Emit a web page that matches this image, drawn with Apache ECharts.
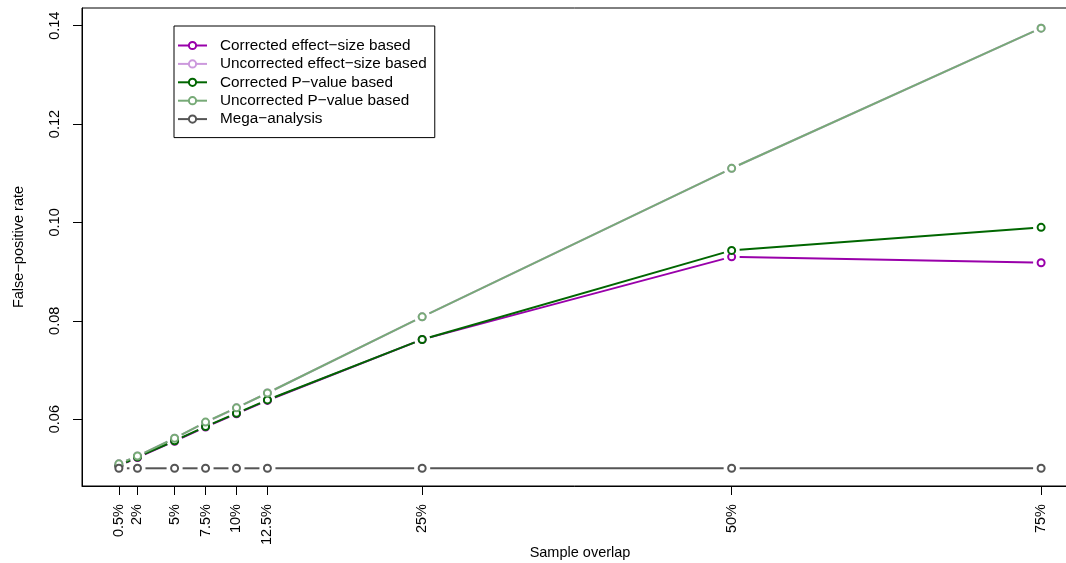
<!DOCTYPE html>
<html>
<head>
<meta charset="utf-8">
<script src="https://cdn.jsdelivr.net/npm/echarts@6/dist/echarts.min.js"></script>
<style>html,body{margin:0;padding:0;background:#fff;}#c{width:1066px;height:563px;}</style>
</head>
<body>
<div id="c"></div>
<script>
// ---- data ----
const overlap = [0.5, 2, 5, 7.5, 10, 12.5, 25, 50, 75];
const xTickLabels = ['0.5%', '2%', '5%', '7.5%', '10%', '12.5%', '25%', '50%', '75%'];
const yTicks = [0.06, 0.08, 0.10, 0.12, 0.14];
const correctedEffect   = [0.0505, 0.0522, 0.0555, 0.0584, 0.0611, 0.0638, 0.0762, 0.0930, 0.0918];
const uncorrectedEffect = [0.0509, 0.0525, 0.0561, 0.0593, 0.0623, 0.0653, 0.0808, 0.1110, 0.1395];
const correctedP        = [0.0505, 0.0523, 0.0556, 0.0585, 0.0612, 0.0639, 0.0762, 0.0943, 0.0990];
const uncorrectedP      = [0.0509, 0.0525, 0.0561, 0.0594, 0.0623, 0.0653, 0.0808, 0.1110, 0.1395];
const megaAnalysis      = [0.0500, 0.0500, 0.0500, 0.0500, 0.0500, 0.0500, 0.0500, 0.0500, 0.0500];

const groups = [
  {name: 'Corrected effect\u2212size based',   values: correctedEffect,   color: '#9900aa'},
  {name: 'Uncorrected effect\u2212size based', values: uncorrectedEffect, color: '#cc99dd'},
  {name: 'Corrected P\u2212value based',       values: correctedP,        color: '#006600'},
  {name: 'Uncorrected P\u2212value based',     values: uncorrectedP,      color: '#77aa77'},
  {name: 'Mega\u2212analysis',                 values: megaAnalysis,      color: '#555555'}
];

const FONT = 'Liberation Sans, Arial, Helvetica, sans-serif';
const GAP = 8;

const series = [];
groups.forEach((g, gi) => {
  const segs = [];
  for (let i = 0; i < overlap.length - 1; i++) {
    segs.push([overlap[i], g.values[i], overlap[i + 1], g.values[i + 1]]);
  }
  series.push({
    type: 'custom',
    name: 'seg' + gi,
    data: segs,
    encode: {x: [0, 2], y: [1, 3]},
    silent: true,
    renderItem: function (params, api) {
      const p1 = api.coord([api.value(0), api.value(1)]);
      const p2 = api.coord([api.value(2), api.value(3)]);
      const dx = p2[0] - p1[0], dy = p2[1] - p1[1];
      const len = Math.sqrt(dx * dx + dy * dy);
      if (len <= 2 * GAP) return null;
      const ux = dx / len, uy = dy / len;
      return {
        type: 'line',
        shape: {x1: p1[0] + ux * GAP, y1: p1[1] + uy * GAP, x2: p2[0] - ux * GAP, y2: p2[1] - uy * GAP},
        style: {stroke: g.color, lineWidth: 2}
      };
    }
  });
  series.push({
    type: 'line',
    name: g.name,
    data: overlap.map((x, i) => [x, g.values[i]]),
    symbol: 'emptyCircle',
    symbolSize: 7,
    showAllSymbol: true,
    color: g.color,
    itemStyle: {color: g.color, borderColor: g.color, borderWidth: 2},
    lineStyle: {color: g.color, width: 0, opacity: 0},
    emphasis: {disabled: true},
    animation: false
  });
});

const chart = echarts.init(document.getElementById('c'), null, {renderer: 'canvas'});
chart.setOption({
  animation: false,
  backgroundColor: '#fff',
  grid: {left: 82, top: 8, width: 996, height: 478, outerBoundsMode: 'none', containLabel: false,
         show: true, borderColor: '#000', borderWidth: 1, backgroundColor: 'transparent'},
  legend: {
    data: groups.map(g => g.name),
    orient: 'vertical',
    left: 174, top: 26,
    padding: [12, 8, 11, 3],
    itemWidth: 29, itemHeight: 9, itemGap: 3.4,
    lineStyle: {width: 2, opacity: 1},
    borderColor: '#000', borderWidth: 1,
    textStyle: {fontFamily: FONT, fontSize: 15.3, color: '#000', padding: [0, 0, 0, 8]},
    selectedMode: false
  },
  xAxis: {
    type: 'value', min: -2.48, max: 77.98,
    name: 'Sample overlap', nameLocation: 'middle', nameGap: 59, nameMoveOverlap: false,
    nameTextStyle: {fontFamily: FONT, fontSize: 14.5, color: '#000'},
    axisLine: {show: true, onZero: false, lineStyle: {color: '#000', width: 1}},
    axisTick: {show: true, length: 9, lineStyle: {color: '#000'}, customValues: overlap},
    axisLabel: {
      customValues: overlap, rotate: 90, margin: 18,
      fontFamily: FONT, fontSize: 14.5, color: '#000',
      formatter: v => xTickLabels[overlap.indexOf(v)] || (v + '%')
    },
    splitLine: {show: false}
  },
  yAxis: {
    type: 'value', min: 0.0464, max: 0.1436,
    name: 'False\u2212positive rate', nameLocation: 'middle', nameGap: 56, nameMoveOverlap: false,
    nameTextStyle: {fontFamily: FONT, fontSize: 14.5, color: '#000'},
    axisLine: {show: true, onZero: false, lineStyle: {color: '#000', width: 1}},
    axisTick: {show: true, length: 9, lineStyle: {color: '#000'}, customValues: yTicks},
    axisLabel: {
      customValues: yTicks, rotate: 90, margin: 20,
      fontFamily: FONT, fontSize: 14.5, color: '#000',
      formatter: v => v.toFixed(2)
    },
    splitLine: {show: false}
  },
  series: series
});
</script>
</body>
</html>
